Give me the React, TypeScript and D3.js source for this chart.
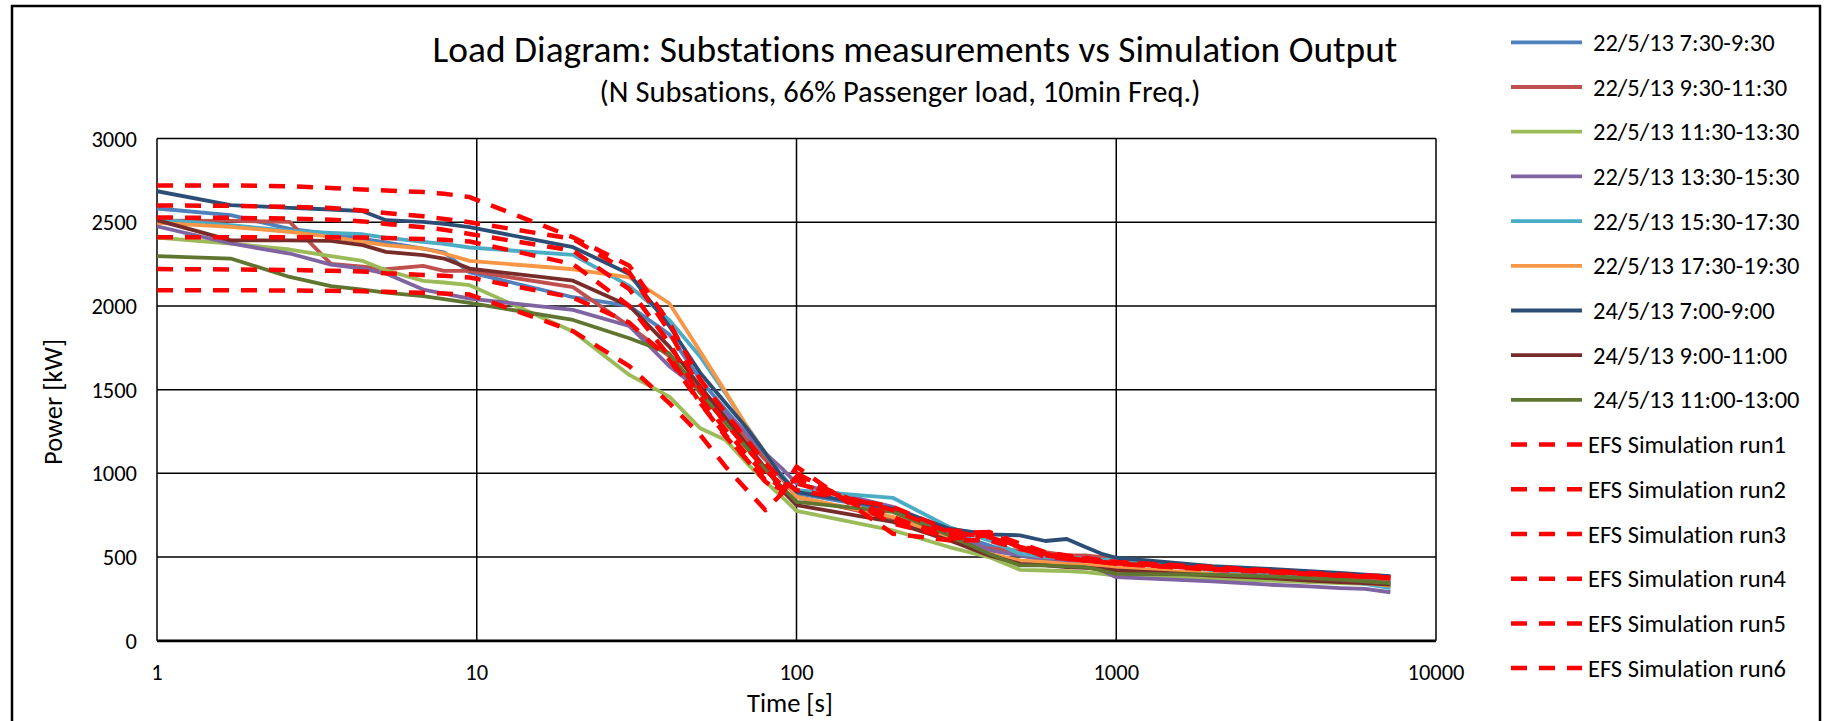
import React from "react";
import * as d3 from "d3";

// ---- data ----
const TIME_S = [1, 1.7, 2.6, 3.5, 4.4, 5.2, 6.8, 7.9, 9.5, 20, 30, 40, 50, 60, 70, 80, 90, 100, 200, 300, 400, 500, 600, 700, 800, 900, 1000, 2000, 3000, 4000, 5000, 6000, 7200];

const M_22_0730 = [2582, 2542, 2460, 2430, 2400, 2380, 2343, 2320, 2200, 2052, 2000, 1830, 1560, 1380, 1230, 1100, 990, 880, 780, 650, 570, 510, 490, 480, 470, 465, 460, 430, 410, 400, 390, 380, 350];
const M_22_0930 = [2510, 2508, 2502, 2251, 2235, 2219, 2239, 2209, 2209, 2112, 1880, 1700, 1500, 1350, 1200, 1080, 970, 860, 730, 620, 550, 540, 530, 510, 510, 500, 480, 430, 410, 390, 380, 370, 350];
const M_22_1130 = [2408, 2373, 2337, 2297, 2269, 2213, 2150, 2140, 2124, 1847, 1588, 1458, 1269, 1199, 1060, 950, 860, 776, 660, 560, 500, 424, 420, 416, 410, 400, 390, 370, 360, 350, 345, 340, 325];
const M_22_1330 = [2476, 2373, 2313, 2247, 2223, 2193, 2098, 2074, 2044, 1976, 1880, 1640, 1500, 1360, 1240, 1120, 1030, 940, 800, 660, 540, 510, 480, 470, 460, 420, 380, 355, 335, 325, 315, 310, 290];
const M_22_1530 = [2516, 2482, 2448, 2436, 2428, 2408, 2382, 2370, 2349, 2305, 2120, 1916, 1697, 1478, 1279, 1120, 980, 900, 854, 680, 600, 520, 500, 495, 490, 485, 480, 420, 400, 380, 360, 340, 315];
const M_22_1730 = [2496, 2472, 2442, 2412, 2382, 2363, 2343, 2313, 2269, 2219, 2171, 2016, 1727, 1488, 1279, 1120, 980, 860, 740, 620, 520, 480, 470, 460, 455, 450, 440, 400, 380, 365, 355, 345, 330];
const M_24_0700 = [2685, 2602, 2586, 2576, 2566, 2512, 2502, 2490, 2470, 2351, 2191, 1880, 1600, 1420, 1270, 1120, 980, 890, 790, 670, 636, 630, 596, 608, 560, 520, 496, 446, 430, 416, 405, 395, 386];
const M_24_0900 = [2512, 2392, 2392, 2388, 2363, 2323, 2303, 2283, 2223, 2151, 2000, 1757, 1520, 1330, 1170, 1030, 900, 810, 710, 600, 510, 460, 450, 440, 435, 430, 420, 390, 375, 360, 350, 345, 335];
const M_24_1100 = [2297, 2283, 2173, 2118, 2098, 2080, 2058, 2040, 2018, 1916, 1807, 1717, 1480, 1300, 1150, 1020, 920, 830, 770, 630, 520, 450, 450, 445, 440, 420, 400, 395, 385, 375, 365, 355, 345];

const SIM_RUN1 = [2720, 2720, 2715, 2705, 2695, 2690, 2680, 2670, 2650, 2410, 2240, 1900, 1560, 1360, 1200, 1060, 960, 900, 800, 660, 640, 570, 520, 500, 490, 480, 470, 430, 415, 400, 390, 385, 380];
const SIM_RUN2 = [2600, 2598, 2592, 2585, 2570, 2555, 2535, 2520, 2500, 2400, 2200, 1850, 1500, 1300, 1150, 1020, 930, 960, 720, 640, 650, 580, 530, 510, 495, 480, 470, 440, 420, 405, 395, 390, 385];
const SIM_RUN3 = [2528, 2526, 2522, 2515, 2505, 2490, 2470, 2455, 2430, 2330, 2100, 1780, 1450, 1260, 1110, 990, 910, 940, 780, 650, 620, 560, 520, 490, 480, 470, 460, 430, 415, 400, 390, 385, 375];
const SIM_RUN4 = [2410, 2410, 2410, 2410, 2408, 2405, 2400, 2395, 2385, 2250, 2000, 1700, 1420, 1220, 1080, 950, 880, 1000, 700, 620, 640, 560, 520, 500, 485, 475, 465, 435, 418, 402, 392, 386, 378];
const SIM_RUN5 = [2220, 2218, 2215, 2210, 2205, 2195, 2185, 2180, 2170, 2050, 1900, 1680, 1420, 1230, 1080, 960, 900, 1040, 640, 600, 600, 550, 510, 495, 480, 470, 460, 425, 410, 398, 390, 384, 376];
const SIM_RUN6 = [2094, 2094, 2092, 2090, 2088, 2084, 2078, 2074, 2068, 1850, 1640, 1420, 1230, 1040, 900, 780, 880, 980, 740, 610, 630, 560, 500, 490, 480, 470, 465, 432, 416, 400, 390, 384, 380];

const SERIES_NAMES = [
  "22/5/13 7:30-9:30",
  "22/5/13 9:30-11:30",
  "22/5/13 11:30-13:30",
  "22/5/13 13:30-15:30",
  "22/5/13 15:30-17:30",
  "22/5/13 17:30-19:30",
  "24/5/13 7:00-9:00",
  "24/5/13 9:00-11:00",
  "24/5/13 11:00-13:00",
  "EFS Simulation run1",
  "EFS Simulation run2",
  "EFS Simulation run3",
  "EFS Simulation run4",
  "EFS Simulation run5",
  "EFS Simulation run6",
];
const SERIES_VALUES = [M_22_0730, M_22_0930, M_22_1130, M_22_1330, M_22_1530, M_22_1730, M_24_0700, M_24_0900, M_24_1100, SIM_RUN1, SIM_RUN2, SIM_RUN3, SIM_RUN4, SIM_RUN5, SIM_RUN6];
const SERIES_COLORS = ["#4F81BD", "#C0504D", "#9BBB59", "#8064A2", "#4BACC6", "#F79646", "#2C4D75", "#772C2A", "#5F7530", "#FF0000", "#FF0000", "#FF0000", "#FF0000", "#FF0000", "#FF0000"];
const SERIES_DASHED = [false, false, false, false, false, false, false, false, false, true, true, true, true, true, true];

const X_TICKS = [1, 10, 100, 1000, 10000];
const Y_TICKS = [0, 500, 1000, 1500, 2000, 2500, 3000];

const TITLE = "Load Diagram: Substations measurements vs Simulation Output";
const SUBTITLE = "(N Subsations, 66% Passenger load, 10min Freq.)";

const FONT = "Calibri, Carlito, Lato, sans-serif";

export default function App() {
  const W = 1824, H = 721;
  const plot = { left: 157, right: 1436, top: 138.5, bottom: 640.8 };
  const x = d3.scaleLog().domain([1, 10000]).range([plot.left, plot.right]);
  const y = d3.scaleLinear().domain([0, 3000]).range([plot.bottom, plot.top]);
  const line = d3.line<number>().x((_, i) => x(TIME_S[i])).y((v) => y(v));

  const legend = { lineX1: 1511, lineX2: 1582, textX: 1593, textXDashed: 1588, top: 42.3, step: 44.7 };

  return (
    <svg
      width={W}
      height={H}
      style={{ position: "absolute", left: 0, top: 0, display: "block", background: "#fff", fontVariantLigatures: "none" }}
      fontFamily={FONT}
    >
      <defs>
        <clipPath id="plotClip">
          <rect x={plot.left} y={plot.top - 3} width={plot.right - plot.left} height={plot.bottom - plot.top + 3} />
        </clipPath>
      </defs>
      <rect x={0} y={0} width={W} height={H} fill="#fff" />
      {/* chart border */}
      <rect x={12} y={6} width={1808} height={740} fill="none" stroke="#000" strokeWidth={2.5} />

      {/* title */}
      <text x={915} y={62} textAnchor="middle" fontSize={37.4} fill="#000">{TITLE}</text>
      <text x={900} y={102} textAnchor="middle" fontSize={30.5} fill="#000">{SUBTITLE}</text>

      {/* gridlines */}
      {Y_TICKS.map((t) => (
        <line key={"gy" + t} x1={plot.left} x2={plot.right} y1={y(t)} y2={y(t)} stroke="#000" strokeWidth={t === 0 ? 2.8 : 1.5} />
      ))}
      {X_TICKS.map((t) => (
        <line key={"gx" + t} x1={x(t)} x2={x(t)} y1={plot.top} y2={plot.bottom} stroke="#000" strokeWidth={1.5} />
      ))}

      {/* tick labels */}
      {Y_TICKS.map((t) => (
        <text key={"ly" + t} x={137} y={y(t)} dy="0.36em" textAnchor="end" fontSize={22.5} fill="#000">{t}</text>
      ))}
      {X_TICKS.map((t) => (
        <text key={"lx" + t} x={x(t)} y={680} textAnchor="middle" fontSize={22.5} fill="#000">{t}</text>
      ))}

      {/* axis titles */}
      <text x={790} y={712} textAnchor="middle" fontSize={26.5} fill="#000">Time [s]</text>
      <text transform={`translate(62,402) rotate(-90)`} textAnchor="middle" fontSize={26.5} fill="#000">Power [kW]</text>

      {/* series */}
      <g clipPath="url(#plotClip)">
        {SERIES_VALUES.map((vals, i) => (
          <path
            key={"s" + i}
            d={line(vals) || ""}
            fill="none"
            stroke={SERIES_COLORS[i]}
            strokeWidth={SERIES_DASHED[i] ? 4.5 : 3.8}
            strokeDasharray={SERIES_DASHED[i] ? "16 12" : undefined}
            strokeLinejoin="round"
          />
        ))}
      </g>

      {/* legend */}
      {SERIES_NAMES.map((name, i) => {
        const cy = legend.top + i * legend.step;
        return (
          <g key={"lg" + i}>
            <line
              x1={legend.lineX1}
              x2={legend.lineX2}
              y1={cy}
              y2={cy}
              stroke={SERIES_COLORS[i]}
              strokeWidth={SERIES_DASHED[i] ? 4.5 : 3.8}
              strokeDasharray={SERIES_DASHED[i] ? "16 12" : undefined}
            />
            <text x={SERIES_DASHED[i] ? legend.textXDashed : legend.textX} y={cy} dy="0.35em" fontSize={24.5} fill="#000">{name}</text>
          </g>
        );
      })}
    </svg>
  );
}
